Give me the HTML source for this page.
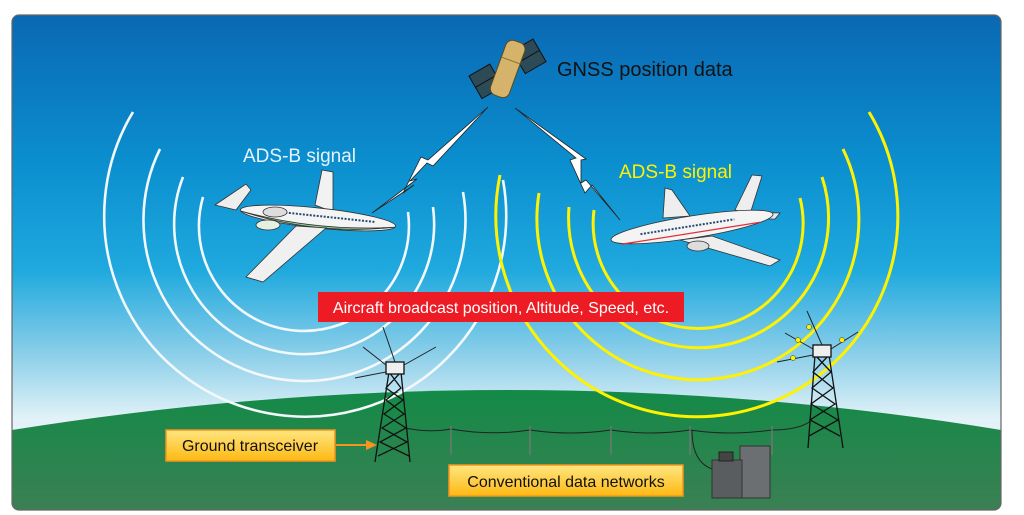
<!DOCTYPE html>
<html><head><meta charset="utf-8"><style>
html,body{margin:0;padding:0;background:#fff;width:1024px;height:515px;overflow:hidden}
svg{display:block}
text{font-family:"Liberation Sans",sans-serif}
</style></head><body>
<svg width="1024" height="515" viewBox="0 0 1024 515" xmlns="http://www.w3.org/2000/svg">
<defs>
<linearGradient id="sky" x1="0" y1="15" x2="0" y2="440" gradientUnits="userSpaceOnUse">
<stop offset="0" stop-color="#0a68b3"/>
<stop offset="0.35" stop-color="#0b8fcf"/>
<stop offset="0.6" stop-color="#1fa9de"/>
<stop offset="0.8" stop-color="#8ccfe9"/>
<stop offset="0.95" stop-color="#e2f2f8"/>
</linearGradient>
<linearGradient id="grd" x1="0" y1="390" x2="0" y2="510" gradientUnits="userSpaceOnUse">
<stop offset="0" stop-color="#138a47"/>
<stop offset="1" stop-color="#3b8054"/>
</linearGradient>
<linearGradient id="box" x1="0" y1="0" x2="0" y2="1">
<stop offset="0" stop-color="#ffe680"/>
<stop offset="1" stop-color="#fdb913"/>
</linearGradient>
<clipPath id="frame"><rect x="12" y="15" width="989" height="495" rx="7"/></clipPath>
</defs>
<g clip-path="url(#frame)">
<rect x="12" y="15" width="989" height="495" fill="url(#sky)"/>
<path d="M12,430 Q512,350 1001,430 L1001,510 L12,510 Z" fill="url(#grd)"/>
</g>
<rect x="12" y="15" width="989" height="495" rx="7" fill="none" stroke="#666" stroke-width="1.2"/>

<!-- white arcs -->
<g fill="none" stroke="#f2f8fb" stroke-width="2.6">
<path d="M203,197 A105,105 0 1 0 408,212"/>
<path d="M183,177 A130,130 0 1 0 433,207"/>
<path d="M160,149 A161,161 0 1 0 463,192"/>
<path d="M133,112 A201,201 0 1 0 503,180"/>
</g>
<!-- yellow arcs -->
<g fill="none" stroke="#fff200" stroke-width="3">
<path d="M594,210 A105,105 0 1 0 800,198"/>
<path d="M569,207 A130,130 0 1 0 822,177"/>
<path d="M539,193 A161,161 0 1 0 843,149"/>
<path d="M500,175 A201,201 0 1 0 869,112"/>
</g>

<!-- satellite -->
<g transform="rotate(-30 507 68)">
<rect x="470" y="56" width="24" height="26" fill="#2d4a57" stroke="#111" stroke-width="1"/>
<rect x="520" y="56" width="24" height="26" fill="#2d4a57" stroke="#111" stroke-width="1"/>
<line x1="470" y1="69" x2="494" y2="69" stroke="#111"/>
<line x1="520" y1="69" x2="544" y2="69" stroke="#111"/>
</g>
<g transform="rotate(20 508 68)">
<rect x="498" y="40" width="20" height="58" rx="7" fill="#d6b36a" stroke="#5a4a20" stroke-width="1"/>
<line x1="498" y1="60" x2="518" y2="60" stroke="#8a7030"/>
</g>
<text x="557" y="76" font-size="20" fill="#111">GNSS position data</text>

<!-- lightning bolts -->
<polygon points="488,107 428,160 421,157 403,193 414,185 372,213 417,179 410,181 427,163 433,166" fill="#fff" stroke="#222" stroke-width="0.8"/>
<polygon points="515,108 576,158 570,160 585,193 592,185 620,220 586,180 581,183 581,160 586,159" fill="#fff" stroke="#222" stroke-width="0.8"/>

<text x="243" y="162" font-size="19" fill="#e6f3fb">ADS-B signal</text>
<text x="619" y="178" font-size="19" fill="#fff200">ADS-B signal</text>

<!-- left plane -->
<g stroke="#333" stroke-width="0.8">
<polygon points="315,205 322,170 333,172 333,212" fill="#f2f2f2"/>
<polygon points="215,205 246,184 251,190 236,210" fill="#eee"/>
<g transform="rotate(6 318 218)">
<ellipse cx="318" cy="218" rx="78" ry="10" fill="#f4f4f4"/>
<path d="M240,219 Q318,232 396,219 Q318,236 240,219Z" fill="#8ccf95"/>
<line x1="285" y1="216" x2="375" y2="216" stroke="#2a4b70" stroke-width="2" stroke-dasharray="2,1.5"/>
</g>
<ellipse cx="275" cy="212" rx="12" ry="5" fill="#ddd"/>
<ellipse cx="268" cy="225" rx="12" ry="5" fill="#e6f0e0"/>
<polygon points="296,226 326,228 263,282 246,277" fill="#f0f0f0"/>
</g>

<!-- right plane -->
<g stroke="#333" stroke-width="0.8">
<polygon points="663,218 665,188 672,190 690,216" fill="#eee"/>
<polygon points="735,210 752,175 762,176 750,214" fill="#eee"/>
<polygon points="738,212 780,213 775,219 740,219" fill="#e8e8e8"/>
<g transform="rotate(-9 692 227)">
<ellipse cx="692" cy="227" rx="82" ry="11" fill="#f4f4f4"/>
<line x1="620" y1="233" x2="760" y2="233" stroke="#e0303a" stroke-width="1.3"/>
<line x1="640" y1="226" x2="735" y2="226" stroke="#2a4b70" stroke-width="2" stroke-dasharray="2,1.5"/>
</g>
<polygon points="680,240 712,236 780,260 770,266" fill="#eee"/>
<ellipse cx="698" cy="246" rx="11" ry="5" fill="#ddd"/>
</g>

<!-- red label -->
<rect x="318" y="292" width="366" height="30" fill="#ed1c24"/>
<text x="501" y="313" font-size="16" fill="#fff" text-anchor="middle">Aircraft broadcast position, Altitude, Speed, etc.</text>

<!-- power line -->
<path d="M405,428 Q430,433 451,429 Q490,436 530,430 Q570,436 611,430 Q650,436 690,430 Q730,436 772,430 Q800,430 812,420" fill="none" stroke="#222" stroke-width="1"/>
<g stroke="#777" stroke-width="1.3">
<line x1="451" y1="426" x2="451" y2="455"/><line x1="530" y1="426" x2="530" y2="455"/>
<line x1="611" y1="426" x2="611" y2="455"/><line x1="690" y1="426" x2="690" y2="455"/>
<line x1="772" y1="426" x2="772" y2="455"/>
</g>
<path d="M692,430 Q692,465 716,470" fill="none" stroke="#222" stroke-width="1"/>

<!-- server -->
<rect x="740" y="446" width="30" height="52" fill="#6c6f72" stroke="#333"/>
<rect x="712" y="460" width="30" height="38" fill="#5a5d60" stroke="#333"/>
<rect x="719" y="452" width="14" height="9" fill="#444" stroke="#222"/>

<!-- towers -->
<g fill="none" stroke="#111" stroke-width="1.3">
<path d="M389,372 L375,462 M401,372 L410,462 M389,372 L401,388 L386,400 L404,414 L382,428 L407,442 L378,456 M401,372 L386,388 L403,400 L384,414 L406,428 L380,442 L409,456"/>
<rect x="386" y="362" width="18" height="12" fill="#eee"/>
<path d="M815,355 L808,448 M829,355 L843,448 M815,355 L831,372 L812,388 L835,404 L810,420 L840,436 M829,355 L813,372 L833,388 L811,404 L838,420 L809,436"/>
<rect x="813" y="345" width="18" height="12" fill="#eee"/>
</g>
<g stroke="#222" stroke-width="1">
<line x1="395" y1="362" x2="383" y2="327"/><line x1="386" y1="365" x2="363" y2="347"/>
<line x1="404" y1="365" x2="436" y2="347"/><line x1="386" y1="372" x2="355" y2="378"/>
<line x1="822" y1="345" x2="807" y2="311"/><line x1="813" y1="349" x2="785" y2="333"/>
<line x1="831" y1="349" x2="858" y2="332"/><line x1="813" y1="355" x2="777" y2="362"/>
</g>
<g fill="#fff200" stroke="#333" stroke-width="0.5">
<circle cx="809" cy="327" r="2.5"/><circle cx="798" cy="340" r="2.5"/><circle cx="842" cy="340" r="2.5"/><circle cx="793" cy="358" r="2.5"/>
</g>

<!-- ground transceiver -->
<rect x="166" y="430" width="169" height="31" fill="url(#box)" stroke="#f7941d" stroke-width="1.5"/>
<text x="250" y="451" font-size="16" fill="#111" text-anchor="middle">Ground transceiver</text>
<line x1="336" y1="445" x2="367" y2="445" stroke="#f7941d" stroke-width="2"/>
<polygon points="366,440 377,445 366,450" fill="#f7941d"/>

<rect x="449" y="465" width="234" height="31" fill="url(#box)" stroke="#f7941d" stroke-width="1.5"/>
<text x="566" y="487" font-size="16" fill="#111" text-anchor="middle">Conventional data networks</text>
</svg>
</body></html>
